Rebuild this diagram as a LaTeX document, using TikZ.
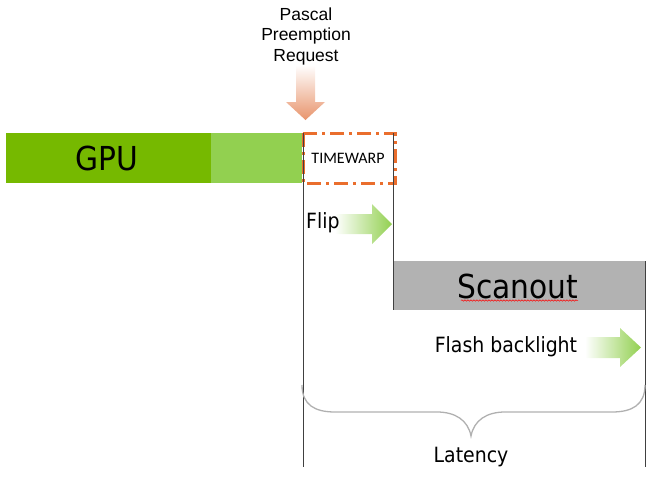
\documentclass[tikz,border=0pt]{standalone}
\usepackage{fontspec}
\setmainfont{DejaVu Sans Condensed}
\newfontfamily\arialfont{Liberation Sans}
\newfontfamily\calibrifont{Carlito}
\usetikzlibrary{decorations.pathmorphing}
\definecolor{nvgreen}{RGB}{118,185,0}
\definecolor{lightgreen}{RGB}{146,208,80}
\definecolor{warporange}{RGB}{234,110,45}
\definecolor{scangray}{RGB}{178,178,178}
\definecolor{reqorange}{RGB}{232,148,108}
\definecolor{bracegray}{RGB}{176,176,176}

\begin{document}
\begin{tikzpicture}[x=1pt,y=-1pt,
    biglabel/.style={inner sep=0pt,font=\fontsize{33}{36}\selectfont},
    smalllabel/.style={inner sep=0pt,font=\fontsize{21}{24}\selectfont},
    timeline/.style={draw=black!75,line width=0.8pt}]
    \useasboundingbox (0,0) rectangle (657,485);
    % request arrow
    \shade[top color=white,bottom color=reqorange] (296,65) -- (315,65) -- (315,102) -- (325,102) -- (305.5,120) -- (286,102) -- (296,102) -- cycle;
    \node[inner sep=0pt,align=center,font=\arialfont\fontsize{17.5}{20.5}\selectfont] (request) at (306,36) {Pascal\\Preemption\\Request};
    % gpu bar
    \fill[nvgreen] (6,133) rectangle (211,183);
    \fill[lightgreen] (211,133) rectangle (302,183);
    \node[biglabel] (gpu) at (107,158) {GPU};
    % timewarp
    \draw[warporange,line width=3pt,dash pattern=on 14pt off 5pt on 3pt off 5pt] (303,133) rectangle (395,183);
    \node[inner sep=0pt,font=\calibrifont\fontsize{16}{18}\selectfont] (timewarp) at (348,158) {TIMEWARP};
    % flip
    \shade[left color=white,right color=lightgreen] (335,214) -- (372,214) -- (372,204) -- (392,224) -- (372,244) -- (372,234) -- (335,234) -- cycle;
    \node[smalllabel,anchor=west] (flip) at (306,223) {Flip};
    % scanout
    \fill[scangray] (393,261) rectangle (645,310);
    \node[biglabel] (scanout) at (518,286) {Scanout};
    \draw[red,line width=0.5pt,decorate,decoration={snake,amplitude=0.7pt,segment length=3pt}] (461,300.5) -- (578,300.5);
    % backlight
    \shade[left color=white,right color=lightgreen] (585,337) -- (620,337) -- (620,328) -- (641,347.5) -- (620,367) -- (620,358) -- (585,358) -- cycle;
    \node[smalllabel] (backlight) at (506,347) {Flash backlight};
    % timelines
    \draw[timeline] (303,133) -- (303,467);
    \draw[timeline] (393,133) -- (393,310);
    \draw[timeline] (645,261) -- (645,467);
    % latency brace
    \draw[bracegray,line width=1.3pt] (302,385) .. controls (302,405) and (315,412) .. (335,412) -- (437,412) .. controls (455,412) and (468,420) .. (471,436) .. controls (474,420) and (487,412) .. (505,412) -- (612,412) .. controls (632,412) and (645,405) .. (645,385);
    \node[smalllabel] (latency) at (471,457) {Latency};
\end{tikzpicture}
\end{document}
